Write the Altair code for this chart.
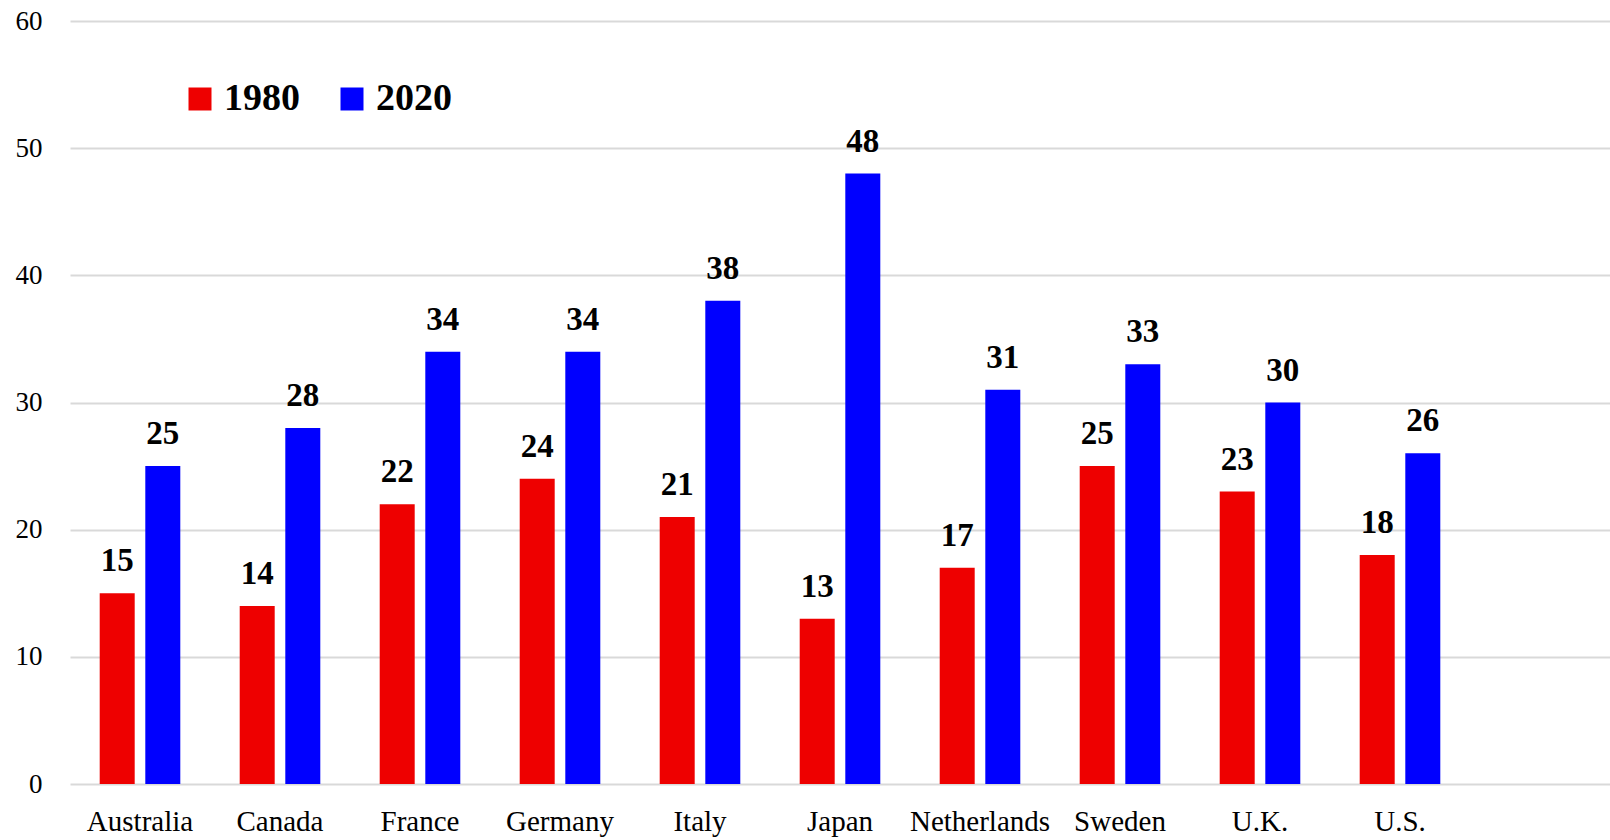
import altair as alt
import pandas as pd

countries = ["Australia", "Canada", "France", "Germany", "Italy", "Japan",
             "Netherlands", "Sweden", "U.K.", "U.S."]
years = ["1980", "2020"]
values_1980 = [15, 14, 22, 24, 21, 13, 17, 25, 23, 18]
values_2020 = [25, 28, 34, 34, 38, 48, 31, 33, 30, 26]
y_ticks = [0, 10, 20, 30, 40, 50, 60]
bar_colors = ["#EE0000", "#0000FF"]

rows = []
for c, v1, v2 in zip(countries, values_1980, values_2020):
    rows.append({"country": c, "year": "1980", "value": v1})
    rows.append({"country": c, "year": "2020", "value": v2})
df = pd.DataFrame(rows)

FONT = "Liberation Serif"

# one spare slot at the right end of the category axis
x_domain = countries + [" "]

x_enc = alt.X(
    "country:N",
    sort=x_domain,
    scale=alt.Scale(domain=x_domain, paddingInner=0.43, paddingOuter=0.215),
    axis=alt.Axis(
        title=None, labelAngle=0, labelFont=FONT, labelFontSize=29,
        labelColor="#000000", ticks=False, domain=False, grid=False,
        labelPadding=23,
    ),
)
xoff_enc = alt.XOffset("year:N", scale=alt.Scale(domain=years, paddingInner=0.25))
y_enc = alt.Y(
    "value:Q",
    scale=alt.Scale(domain=[0, 60], nice=False),
    axis=alt.Axis(
        title=None, values=y_ticks, labelFont=FONT, labelFontSize=27,
        labelColor="#000000", ticks=False, domain=False, grid=True,
        gridColor="#d9d9d9", gridWidth=1.8, labelPadding=28,
    ),
)

bars = alt.Chart(df).mark_bar(size=35).encode(
    x=x_enc,
    xOffset=xoff_enc,
    y=y_enc,
    color=alt.Color(
        "year:N",
        scale=alt.Scale(domain=years, range=bar_colors),
        legend=alt.Legend(
            title=None, orient="none", legendX=111, legendY=59,
            direction="horizontal", symbolType="square", symbolSize=529,
            symbolStrokeWidth=0, labelFont=FONT, labelFontSize=38,
            labelFontWeight="bold", labelColor="#000000", labelOffset=5,
            columnPadding=33,
        ),
    ),
)

labels = alt.Chart(df).mark_text(
    font=FONT, fontSize=33, fontWeight="bold", color="#000000",
    baseline="alphabetic", dy=-22,
).encode(
    x=alt.X("country:N", sort=x_domain),
    xOffset=alt.XOffset("year:N"),
    y=alt.Y("value:Q"),
    text=alt.Text("value:Q"),
)

chart = (
    alt.layer(bars, labels)
    .properties(
        width=1540, height=763,
        autosize=alt.AutoSizeParams(type="none"),
        padding={"left": 70, "top": 21, "right": 0, "bottom": 56},
        view=alt.ViewBackground(stroke="transparent", strokeWidth=0, strokeOpacity=0),
    )
    .configure_view(stroke="transparent", strokeWidth=0, strokeOpacity=0)
    .configure_axis(domain=False)
    .configure_axisX(grid=False, domain=False)
    .configure_axisY(domain=False)
    .configure(background="white")
)

chart.save("out.html", embed_options={"renderer": "svg", "actions": False})
